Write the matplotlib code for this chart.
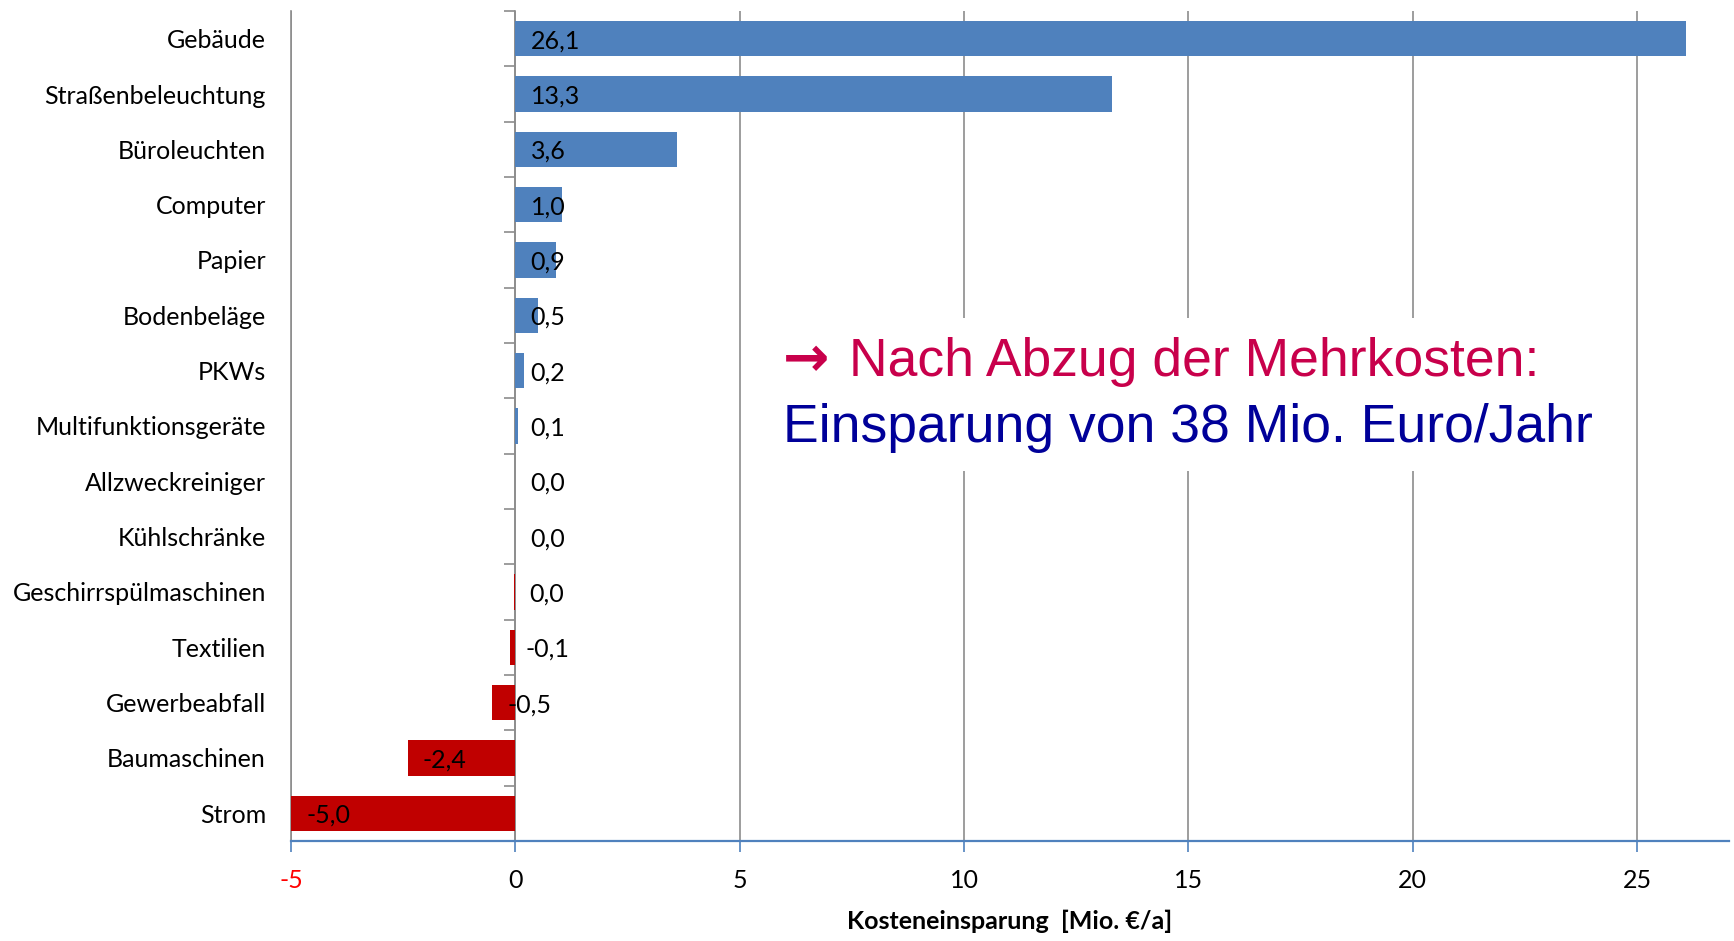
import numpy as np
import matplotlib.pyplot as plt

# data (Mio. EUR per year)
categories = ["Gebäude", "Straßenbeleuchtung", "Büroleuchten", "Computer", "Papier",
              "Bodenbeläge", "PKWs", "Multifunktionsgeräte", "Allzweckreiniger",
              "Kühlschränke", "Geschirrspülmaschinen", "Textilien", "Gewerbeabfall",
              "Baumaschinen", "Strom"]
savings = [26.1, 13.3, 3.6, 1.04, 0.9, 0.5, 0.2, 0.07, 0.0, 0.0, -0.04, -0.12, -0.52, -2.4, -5.0]
xticks = [-5, 0, 5, 10, 15, 20, 25]

BLUE = "#4F81BD"
RED = "#C00000"
GRID = "#8c8c8c"
LABEL_FONT = ["Lato", "Open Sans", "DejaVu Sans"]
FS = 18


def fmt(v):
    """German decimal comma, no '-0,0'"""
    s = f"{v:.1f}".replace(".", ",")
    return "0,0" if s == "-0,0" else s


plt.rcParams["font.family"] = LABEL_FONT

fig = plt.figure(figsize=(17.34, 9.41), dpi=100)
ax = fig.add_axes([0.1678, 0.1063, 0.8293, 0.882])

y = np.arange(len(categories))
colors = [BLUE if v >= 0 else RED for v in savings]
ax.barh(y, savings, height=0.64, color=colors, zorder=3)

ax.set_xlim(-5, 27.05)
ax.set_ylim(len(categories) - 0.5, -0.5)

# vertical gridlines
ax.set_axisbelow(True)
ax.xaxis.grid(True, color=GRID, lw=1.2)

for side in ["top", "right"]:
    ax.spines[side].set_visible(False)
ax.spines["left"].set_color(GRID)
ax.spines["left"].set_linewidth(1.2)
ax.spines["bottom"].set_color(BLUE)
ax.spines["bottom"].set_linewidth(1.6)

ax.set_yticks(y, categories, fontsize=FS)
ax.tick_params(axis="y", length=0, pad=18)

ax.set_xticks(xticks, [str(t) for t in xticks], fontsize=FS)
ax.tick_params(axis="x", length=8, width=1.2, color=BLUE, pad=12)
ax.get_xticklabels()[0].set_color("#FF0000")
ax.set_xlabel("Kosteneinsparung  [Mio. €/a]", fontsize=FS, fontweight="bold", labelpad=13)

# category axis sitting at x = 0 with ticks between bars
sec = ax.secondary_yaxis(0, transform=ax.transData)
sec.set_yticks(np.arange(len(categories) + 1) - 0.5, [""] * (len(categories) + 1))
sec.tick_params(length=8, width=1.2, color=GRID)
sec.spines["left"].set_color(GRID)
sec.spines["left"].set_linewidth(1.2)

# value labels near the bar base
for i, v in enumerate(savings):
    ax.annotate(fmt(v), xy=(min(v, 0), i), xytext=(11, 0), textcoords="offset points",
                ha="left", va="center_baseline", fontsize=FS, zorder=4)

# note box (white patch hides the gridlines behind the text)
fig.patches.append(plt.Rectangle((0.446, 0.5), 0.4, 0.162, transform=fig.transFigure,
                                 facecolor="white", edgecolor="none", zorder=2))
fig.text(0.4516, 0.600, "\u2192", fontsize=40, color="#C8004B", family="DejaVu Sans",
         fontweight="bold", va="baseline", ha="left", zorder=3)
fig.text(0.4898, 0.600, "Nach Abzug der Mehrkosten:", fontsize=38.5, color="#C8004B",
         family="Liberation Sans", va="baseline", ha="left", zorder=3)
fig.text(0.4516, 0.530, "Einsparung von 38 Mio. Euro/Jahr", fontsize=38.5, color="#000099",
         family="Liberation Sans", va="baseline", ha="left", zorder=3)

fig.savefig("out.png", dpi=100)
